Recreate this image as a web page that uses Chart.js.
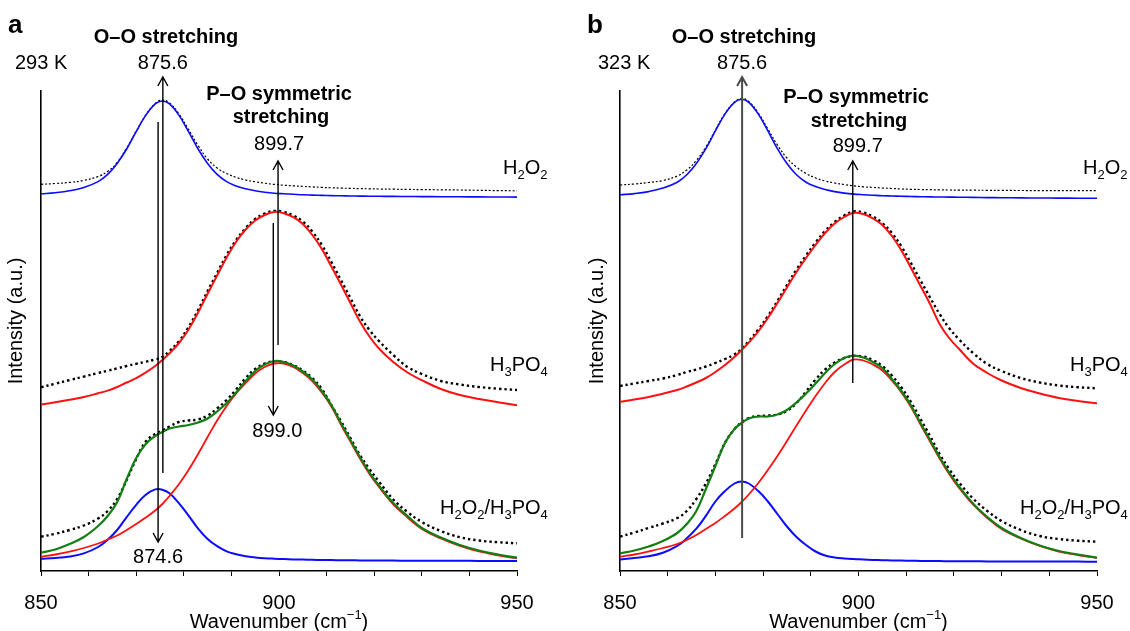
<!DOCTYPE html>
<html>
<head>
<meta charset="utf-8">
<script src="https://cdn.jsdelivr.net/npm/chart.js@4.4.1/dist/chart.umd.min.js"></script>
<style>
  body { margin: 0; background: #fff; width: 1130px; height: 631px; position: relative; overflow: hidden; }
  canvas { position: absolute; top: 0; }
  #panelA { left: 0; }
  #panelB { left: 579px; }
</style>
</head>
<body>
<canvas id="panelA" width="579" height="631"></canvas>
<canvas id="panelB" width="551" height="631"></canvas>
<script>
// wavenumber grid (cm-1) shared by every curve
const wavenumber = [850, 853, 856, 859, 862, 864, 866, 868, 870, 872, 874, 875.5, 877, 879, 881, 883, 885, 887, 889, 891, 893, 895, 897, 899, 901, 903, 905, 907, 909, 911, 913, 915, 917, 919, 921, 924, 927, 930, 934, 938, 942, 946, 950];
const tickLabels = [850, 900, 950];

// panel a, 293 K (intensity, a.u., curves stacked with offsets)
const h2o2FitA = [377.2, 378.3, 380.2, 383.6, 389.4, 396.6, 407.6, 422, 439.3, 455.6, 467.1, 470, 467.1, 455.6, 439.3, 422, 407.6, 396.6, 389.4, 385, 382.2, 380.2, 378.8, 377.8, 377.2, 376.7, 376.2, 375.9, 375.6, 375.4, 375.2, 375, 374.9, 374.8, 374.7, 374.6, 374.5, 374.4, 374.3, 374.2, 374.1, 374, 373.9];
const h2o2DataA = [386.7, 387.5, 388.6, 390.6, 394.5, 399.5, 408.5, 423, 440, 456, 467.5, 471, 468, 457, 441.5, 425.5, 412, 403, 397.5, 393.6, 391, 389.2, 387.8, 386.6, 385.8, 385.2, 384.6, 384.1, 383.6, 383.2, 382.9, 382.6, 382.4, 382.2, 382, 381.8, 381.6, 381.4, 381.2, 381, 380.7, 380.4, 380.2];
const h3po4FitA = [166.4, 168.8, 171.3, 174, 177.7, 180.4, 184, 188.5, 192.8, 198.5, 205, 211, 217.8, 228, 241.5, 258.5, 277.3, 295.5, 313.5, 329.3, 341.5, 350.5, 356, 359.1, 357.8, 353.8, 347, 336, 322, 304.5, 286.5, 268, 249.5, 234.5, 222.5, 209, 198.5, 190.8, 182, 176, 172, 168.8, 165.8];
const h3po4DataA = [183.7, 187.3, 190.9, 194.4, 198, 200.3, 202.6, 205, 207.2, 209.3, 211.5, 214, 220, 230, 244, 261, 280, 298, 316, 331, 343, 352, 357.5, 360, 359, 355.5, 349.5, 339.5, 326, 309, 291, 273, 255, 241, 230, 216, 204, 197, 190, 186.5, 184, 182.3, 181];
const mixFitA = [18.3, 21.5, 27, 34, 45, 55, 69, 92, 113, 127, 135, 139, 142.5, 144.5, 146, 148.5, 152.5, 159.5, 168, 178.5, 190, 200, 206.5, 210, 209, 205.5, 199.5, 191.5, 180, 166, 148, 131, 114, 98.5, 85.5, 68, 55, 43, 33.5, 26, 20.5, 16.5, 13.3];
const mixRedA = [14.2, 16.5, 19.3, 23, 27.5, 31.5, 35.5, 41, 47, 53.5, 60.5, 67, 75, 87, 101, 117, 134, 150.5, 165, 177.5, 188, 197.5, 204, 207.5, 207.5, 204, 198, 190, 178.5, 164.5, 146.5, 129.5, 112.5, 97, 84, 66.5, 53.5, 42, 32.5, 25, 19.5, 15.7, 12.7];
const mixBlueA = [12.2, 13, 14.5, 17.6, 24, 31.2, 41, 53.9, 66.2, 76.2, 81.6, 81.3, 77.7, 67.6, 55.4, 42.4, 32, 24.8, 19.7, 16.8, 14.8, 13.6, 12.8, 12.3, 11.9, 11.6, 11.4, 11.2, 11, 10.9, 10.8, 10.7, 10.6, 10.5, 10.5, 10.4, 10.3, 10.3, 10.2, 10.2, 10.1, 10.1, 10];
const mixDataA = [34.3, 37.2, 41, 45.5, 52.5, 60, 72, 91, 112, 129.5, 137, 140.5, 144.5, 149, 150.5, 151.5, 155.5, 162.5, 171, 181.5, 193, 202, 207.5, 209.8, 209, 206, 200.5, 193, 182, 166, 150, 133, 116, 102, 89.5, 71.5, 59, 49, 40, 33.8, 30.5, 28.8, 27.7];

// panel b, 323 K
const h2o2FitB = [376.3, 377.4, 379.4, 382.9, 388.8, 396.2, 407.5, 422.4, 440.1, 456.9, 468.7, 471.7, 468.7, 456.9, 440.1, 422.4, 407.5, 396.2, 388.8, 384.4, 381.4, 379.4, 377.9, 376.9, 376.3, 375.8, 375.3, 375, 374.7, 374.5, 374.3, 374.1, 374, 373.9, 373.8, 373.6, 373.4, 373.3, 373.1, 373, 372.9, 372.8, 372.7];
const h2o2DataB = [386, 387, 388.5, 390.5, 395, 401, 410.5, 424, 441, 457.5, 469, 472.5, 469.5, 458, 442, 426, 413, 404, 397.5, 393, 390, 388, 386.5, 385.2, 384.2, 383.6, 383, 382.5, 382, 381.7, 381.5, 381.3, 381.1, 381, 380.9, 380.8, 380.7, 380.6, 380.5, 380.4, 380.4, 380.3, 380.3];
const h3po4FitB = [169.3, 171.5, 174, 177.3, 181, 184.5, 188.5, 193, 199, 206, 214, 221, 228.5, 239.5, 253, 268, 283.5, 299, 313, 326, 338, 347.5, 354, 358.2, 357, 352.5, 346, 335, 320.5, 303, 285, 267, 247, 233, 222.5, 207.5, 198, 190.5, 183, 177.5, 173, 170, 167.7];
const h3po4DataB = [185, 187.5, 190, 192.5, 196, 199, 201.5, 204.5, 208, 212, 216.5, 222, 230, 241.5, 255, 270, 286, 301.5, 315.5, 328.5, 340, 349, 355.5, 359.5, 358.5, 354.5, 348, 338, 324.5, 308, 290.5, 273.5, 257, 243, 232, 218, 207, 200, 193, 188.5, 185.5, 183.8, 182.7];
const mixFitB = [17.7, 20.5, 24.5, 30, 38, 47, 60, 82, 105, 128, 142, 148, 152.5, 154.5, 154.5, 156.5, 161, 168.5, 177.5, 187.5, 198, 207, 213, 215.3, 213.5, 209, 203, 192, 180, 165.5, 148, 131, 114, 98.5, 85, 67.5, 54, 43, 33, 25.5, 20, 16.5, 13.3];
const mixRedB = [14.3, 16.5, 19.5, 23, 27, 31, 36, 42, 48, 55, 62.5, 69, 76.5, 88, 101, 115, 130, 145.5, 160.5, 175, 188, 199, 206.5, 211.5, 210.5, 206.5, 200.5, 190.5, 178.5, 164, 146.5, 129.5, 112.5, 97, 83.5, 66.5, 53, 42, 32.5, 25, 19.5, 16, 13];
const mixBlueB = [11.5, 13.1, 14.7, 18.3, 25.1, 32.7, 42.3, 55.1, 69.5, 79.9, 87.5, 89.5, 87.5, 79.9, 69.5, 57, 44.5, 34, 26, 19.5, 15.5, 13.5, 12.5, 11.9, 11.5, 11.1, 10.8, 10.6, 10.4, 10.3, 10.1, 10, 9.9, 9.8, 9.8, 9.7, 9.6, 9.6, 9.5, 9.5, 9.4, 9.4, 9.3];
const mixDataB = [34.3, 38.5, 43, 47.5, 53, 60, 72, 87.5, 107, 128, 142, 148.5, 153, 155, 155.5, 156.5, 160, 168, 179.5, 191.5, 201.5, 208.5, 213, 215, 214.5, 211, 205, 195.5, 183.5, 169, 152, 135, 117, 102, 89, 72.5, 60, 50, 41, 35, 32, 30.3, 29.3];

const FONT = "'Liberation Sans', Arial, Helvetica, sans-serif";
const BLUE = "#0b0bff";
const RED = "#ff1010";
const GREEN = "#137f13";

function pontos(values) {
  return wavenumber.map((x, i) => ({ x: x, y: values[i] }));
}

function linha(values, color, width, dash) {
  return {
    data: pontos(values),
    borderColor: color,
    borderWidth: width,
    borderDash: dash || [],
    pointRadius: 0,
    fill: false,
    tension: 0.4,
  };
}

// formula with subscripts, "_" marks the next character as subscript
function formula(ctx, text, x, y) {
  let pos = x;
  for (let i = 0; i < text.length; i++) {
    if (text[i] === "_") {
      i++;
      ctx.font = "13px " + FONT;
      ctx.fillText(text[i], pos, y + 5);
    } else {
      ctx.font = "20px " + FONT;
      ctx.fillText(text[i], pos, y);
    }
    pos += ctx.measureText(text[i]).width;
  }
}

function seta(ctx, x, y0, y1, color, width) {
  const dir = y1 < y0 ? 1 : -1;
  ctx.strokeStyle = color;
  ctx.lineWidth = width;
  ctx.beginPath();
  ctx.moveTo(x, y0);
  ctx.lineTo(x, y1);
  ctx.moveTo(x - 5, y1 + 9 * dir);
  ctx.lineTo(x, y1);
  ctx.lineTo(x + 5, y1 + 9 * dir);
  ctx.stroke();
}

const anotacoes = {
  id: "anotacoes",
  afterDraw(chart, args, opts) {
    const ctx = chart.ctx;
    const xs = chart.scales.x;
    const ys = chart.scales.y;
    ctx.save();
    ctx.fillStyle = "#000";
    ctx.textBaseline = "alphabetic";

    // arrows at the band positions
    opts.setas.forEach((s) => {
      seta(ctx, xs.getPixelForValue(s.x), ys.getPixelForValue(s.de), ys.getPixelForValue(s.ate), s.cor || "#000", s.w || 1.4);
    });

    opts.textos.forEach((t) => {
      ctx.font = (t.bold ? "bold " : "") + (t.size || 20) + "px " + FONT;
      ctx.textAlign = t.align || "center";
      const x = t.wn !== undefined ? xs.getPixelForValue(t.wn) + (t.dx || 0) : t.x;
      ctx.fillText(t.txt, x, t.y);
    });

    ctx.textAlign = "left";
    opts.formulas.forEach((f) => formula(ctx, f.txt, f.x, f.y));

    // axis titles
    ctx.font = "20px " + FONT;
    ctx.textAlign = "center";
    ctx.save();
    ctx.translate(opts.yTitulo, 321);
    ctx.rotate(-Math.PI / 2);
    ctx.textBaseline = "middle";
    ctx.fillText("Intensity (a.u.)", 0, 0);
    ctx.restore();

    const cx = (chart.chartArea.left + chart.chartArea.right) / 2;
    const w1 = ctx.measureText("Wavenumber (cm").width;
    ctx.font = "13px " + FONT;
    const w2 = ctx.measureText("\u22121").width;
    ctx.font = "20px " + FONT;
    const w3 = ctx.measureText(")").width;
    const x0 = cx - (w1 + w2 + w3) / 2;
    ctx.textAlign = "left";
    ctx.fillText("Wavenumber (cm", x0, 628);
    ctx.font = "13px " + FONT;
    ctx.fillText("\u22121", x0 + w1, 619);
    ctx.font = "20px " + FONT;
    ctx.fillText(")", x0 + w1 + w2, 628);
    ctx.restore();
  },
};

function grafico(id, series, padRight, opts) {
  const ctx = document.getElementById(id).getContext("2d");
  return new Chart(ctx, {
    type: "line",
    data: {
      datasets: [
        linha(series[0], BLUE, 1.6),
        linha(series[1], "#000", 1.2, [2, 2]),
        linha(series[2], RED, 2),
        linha(series[3], "#000", 2.4, [2.4, 3]),
        linha(series[4], GREEN, 2.2),
        linha(series[5], RED, 1.8),
        linha(series[6], BLUE, 2),
        linha(series[7], "#000", 2.4, [2.4, 3]),
      ],
    },
    options: {
      responsive: false,
      devicePixelRatio: 1,
      animation: false,
      layout: { padding: { top: 91, right: padRight, left: 0, bottom: 0 } },
      plugins: { legend: { display: false }, tooltip: { enabled: false }, anotacoes: opts },
      scales: {
        x: {
          type: "linear",
          min: 850,
          max: 950,
          afterFit: (s) => { s.height = 60; },
          ticks: {
            stepSize: 10,
            autoSkip: false,
            maxRotation: 0,
            color: "#000",
            padding: 15,
            font: { family: FONT, size: 20 },
            callback: (v) => (tickLabels.includes(v) ? String(v) : ""),
          },
          grid: { drawOnChartArea: false, drawTicks: true, tickLength: 5, color: "#000", lineWidth: 1 },
          border: { display: true, color: "#000", width: 1.6 },
        },
        y: {
          min: 0,
          max: 480,
          afterFit: (s) => { s.width = 41; },
          ticks: { display: false },
          grid: { display: false, drawTicks: false },
          border: { display: true, color: "#000", width: 1.6 },
        },
      },
    },
    plugins: [anotacoes],
  });
}

grafico("panelA", [h2o2FitA, h2o2DataA, h3po4FitA, h3po4DataA, mixFitA, mixRedA, mixBlueA, mixDataA], 62, {
  yTitulo: 16,
  setas: [
    { x: 875.6, de: 98, ate: 494 },
    { x: 874.6, de: 449, ate: 29 },
    { x: 899.8, de: 226, ate: 410 },
    { x: 898.8, de: 348, ate: 156 },
  ],
  textos: [
    { txt: "a", bold: true, size: 26, x: 8, y: 33, align: "left" },
    { txt: "O\u2013O stretching", bold: true, x: 166, y: 43 },
    { txt: "293 K", x: 15, y: 69, align: "left" },
    { txt: "875.6", wn: 875.6, y: 69 },
    { txt: "P\u2013O symmetric", bold: true, x: 279, y: 100 },
    { txt: "stretching", bold: true, x: 281, y: 123 },
    { txt: "899.7", wn: 899.8, dx: 1, y: 150 },
    { txt: "899.0", wn: 898.8, dx: 4, y: 437 },
    { txt: "874.6", wn: 874.6, y: 563 },
  ],
  formulas: [
    { txt: "H_2O_2", x: 503, y: 174 },
    { txt: "H_3PO_4", x: 490, y: 371 },
    { txt: "H_2O_2/H_3PO_4", x: 440, y: 514 },
  ],
});

grafico("panelB", [h2o2FitB, h2o2DataB, h3po4FitB, h3po4DataB, mixFitB, mixRedB, mixBlueB, mixDataB], 33, {
  yTitulo: 18,
  setas: [
    { x: 875.6, de: 33, ate: 494, cor: "#4a4a4a", w: 2 },
    { x: 898.8, de: 188, ate: 410 },
  ],
  textos: [
    { txt: "b", bold: true, size: 26, x: 8, y: 33, align: "left" },
    { txt: "O\u2013O stretching", bold: true, x: 165, y: 43 },
    { txt: "323 K", x: 19, y: 69, align: "left" },
    { txt: "875.6", wn: 875.6, y: 69 },
    { txt: "P\u2013O symmetric", bold: true, x: 277, y: 103 },
    { txt: "stretching", bold: true, x: 280, y: 127 },
    { txt: "899.7", wn: 898.8, dx: 5, y: 152 },
  ],
  formulas: [
    { txt: "H_2O_2", x: 504, y: 174 },
    { txt: "H_3PO_4", x: 491, y: 371 },
    { txt: "H_2O_2/H_3PO_4", x: 441, y: 514 },
  ],
});
</script>
</body>
</html>
